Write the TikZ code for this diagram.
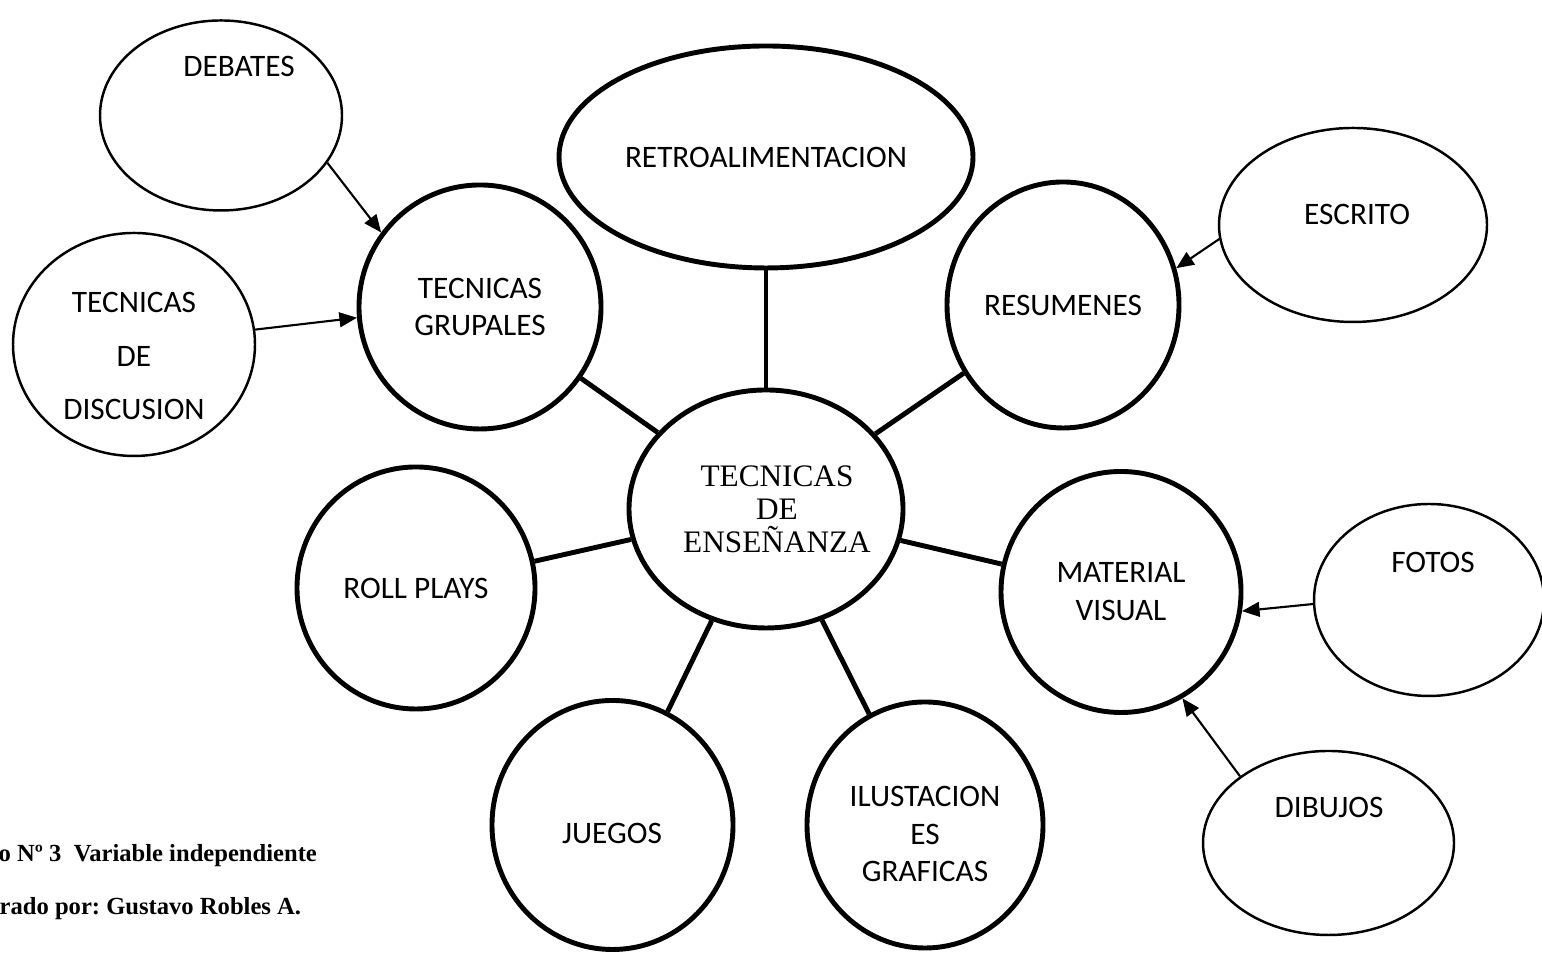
\documentclass[tikz,border=0pt]{standalone}
\usepackage{fontspec}
\setmainfont{Liberation Serif}
\newfontfamily\calibri{Carlito}
\usetikzlibrary{shapes.geometric,arrows.meta}
\frenchspacing
\tikzset{
  lbl/.style={font=\calibri\fontsize{8.9}{10.8}\selectfont, align=center, inner sep=0pt},
  big/.style={ellipse, draw, line width=1.4pt, inner sep=0pt, lbl},
  small/.style={ellipse, draw, line width=0.7pt, inner sep=0pt, lbl},
  spoke/.style={line width=1.4pt},
  feed/.style={line width=0.6pt, -{Triangle[length=5pt,width=4.2pt]}},
  caption/.style={font=\bfseries\fontsize{7}{8}\selectfont, inner sep=0pt, anchor=base west}
}
\begin{document}
\begin{tikzpicture}
\useasboundingbox (0,0) rectangle (15.42,9.54);
	\node[big, minimum width=2.74cm, minimum height=2.38cm] (ens) at (7.66,4.45) {};
	\node[font=\fontsize{8.9}{9.4}\selectfont, align=center, inner sep=0pt] (ens-t) at (7.77,4.45) {TECNICAS\\DE\\ENSEÑANZA};
	\node[big, minimum width=4.14cm, minimum height=2.22cm] (retro) at (7.66,7.97) {RETROALIMENTACION};
	\node[big, minimum width=2.42cm, minimum height=2.44cm] (grupales) at (4.80,6.47) {TECNICAS\\GRUPALES};
	\node[big, minimum width=2.32cm, minimum height=2.46cm] (resumenes) at (10.63,6.49) {RESUMENES};
	\node[big, minimum width=2.40cm, minimum height=2.41cm] (material) at (11.21,3.62) {MATERIAL\\VISUAL};
	\node[big, minimum width=2.38cm, minimum height=2.42cm] (roll) at (4.16,3.66) {ROLL PLAYS};
	\node[big, minimum width=2.41cm, minimum height=2.49cm] (juegos) at (6.125,1.29) {};
	\node[lbl] (juegos-t) at (6.12,1.21) {JUEGOS};
	\node[big, minimum width=2.36cm, minimum height=2.46cm] (ilust) at (9.25,1.29) {};
	\node[lbl] (ilust-t) at (9.25,1.20) {ILUSTACION\\ES\\GRAFICAS};
	\node[small, minimum width=2.42cm, minimum height=1.90cm] (debates) at (2.21,8.385) {};
	\node[lbl] (debates-t) at (2.39,8.88) {DEBATES};
	\node[small, minimum width=2.42cm, minimum height=2.23cm] (discusion) at (1.34,6.095) {};
	\node[lbl, font=\calibri\fontsize{8.9}{15.1}\selectfont] (discusion-t) at (1.34,5.98) {TECNICAS\\DE\\DISCUSION};
	\node[small, minimum width=2.68cm, minimum height=1.94cm] (escrito) at (13.53,7.29) {};
	\node[lbl] (escrito-t) at (13.57,7.40) {ESCRITO};
	\node[small, minimum width=2.30cm, minimum height=1.92cm] (fotos) at (14.29,3.54) {};
	\node[lbl] (fotos-t) at (14.33,3.92) {FOTOS};
	\node[small, minimum width=2.51cm, minimum height=1.84cm] (dibujos) at (13.285,1.11) {};
	\node[lbl] (dibujos-t) at (13.29,1.47) {DIBUJOS};
	% main spokes
	\draw[spoke] (ens) -- (retro);
	\draw[spoke] (ens) -- (grupales);
	\draw[spoke] (ens) -- (resumenes);
	\draw[spoke] (ens) -- (material);
	\draw[spoke] (ens) -- (roll);
	\draw[spoke] (ens) -- (juegos);
	\draw[spoke] (ens) -- (ilust);
	% arrows
	\draw[feed] (debates.-24) -- (grupales.143);
	\draw[feed] (discusion.7) -- (grupales.185);
	\draw[feed] (escrito.186.5) -- (resumenes.18);
	\draw[feed] (fotos.182) -- (material.-9.5);
	\draw[feed] (dibujos.143) -- (material.-60);
	\node[caption] (cap1) at (-0.02,0.92) {o Nº 3\ \ Variable independiente};
	\node[caption] (cap2) at (-0.01,0.39) {rado por: Gustavo Robles A.};
\end{tikzpicture}
\end{document}
